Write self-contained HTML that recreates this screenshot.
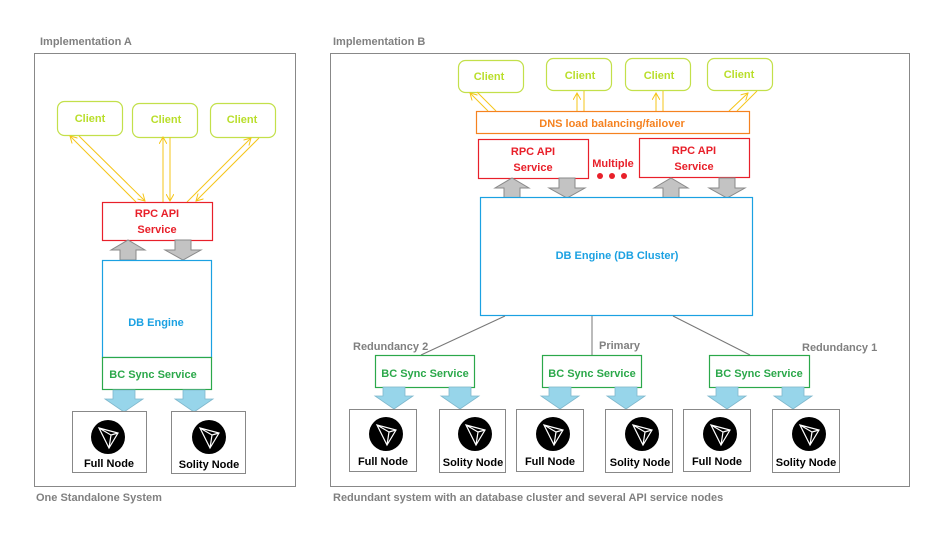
<!DOCTYPE html>
<html><head><meta charset="utf-8"><style>
html,body{margin:0;padding:0;background:#fff;}
svg{display:block;}
text{font-family:"Liberation Sans",sans-serif;font-weight:bold;}
</style></head><body>
<svg width="941" height="534" viewBox="0 0 941 534" xmlns="http://www.w3.org/2000/svg">
<defs>
<g id="logo"><circle r="17" fill="#000"/><path d="M-9,-9 L10,-4 L1,11 Z M-9,-9 L3,-2 L1,11 M3,-2 L10,-4" fill="none" stroke="#fff" stroke-width="1.2"/></g>
<g id="up"><path d="M-8,20 L-8,10 L-17,10 L0,0 L17,10 L8,10 L8,20 Z" fill="#c3c3c3" stroke="#8a8a8a" stroke-width="1"/></g>
<g id="dn"><path d="M-8,0 L-8,10 L-18,10 L0,20 L18,10 L8,10 L8,0 Z" fill="#c3c3c3" stroke="#8a8a8a" stroke-width="1"/></g>
<g id="bl"><path d="M-11,0 L-11,9 L-19,9 L0,22 L19,9 L11,9 L11,0 Z" fill="#97d5ea" stroke="#7fb7cc" stroke-width="0.8"/></g>
<marker id="ah" markerWidth="8" markerHeight="8" refX="7" refY="4" orient="auto" markerUnits="userSpaceOnUse"><path d="M0,0 L7,4 L0,8" fill="none" stroke="#f5c518" stroke-width="1"/></marker>
</defs>
<g font-size="11" fill="#808080">
<text x="40" y="45">Implementation A</text>
<text x="333" y="45">Implementation B</text>
<text x="36" y="501">One Standalone System</text>
<text x="333" y="501">Redundant system with an database cluster and several API service nodes</text>
</g>
<rect x="34.5" y="53.5" width="261" height="433" fill="none" stroke="#888"/>
<rect x="330.5" y="53.5" width="579" height="433" fill="none" stroke="#888"/>

<!-- Left -->
<g fill="none" stroke="#c3e04a" stroke-width="1.2">
<rect x="57.5" y="101.5" width="65" height="34" rx="7"/>
<rect x="132.5" y="103.5" width="65" height="34" rx="7"/>
<rect x="210.5" y="103.5" width="65" height="34" rx="7"/>
</g>
<g font-size="11" fill="#b9de2a" text-anchor="middle">
<text x="90" y="122">Client</text><text x="166" y="123">Client</text><text x="242" y="123">Client</text>
</g>
<g stroke="#f5c518" stroke-width="1" marker-end="url(#ah)">
<line x1="136" y1="202" x2="70" y2="136"/>
<line x1="79" y1="136" x2="145" y2="201"/>
<line x1="163" y1="202" x2="163" y2="137"/>
<line x1="170" y1="137" x2="170" y2="201"/>
<line x1="187" y1="202" x2="251" y2="138"/>
<line x1="259" y1="138" x2="196" y2="201"/>
</g>
<rect x="102.5" y="202.5" width="110" height="38" fill="#fff" stroke="#e8202a" stroke-width="1.2"/>
<text x="157" y="217" font-size="11" fill="#e8202a" text-anchor="middle">RPC API</text>
<text x="157" y="233" font-size="11" fill="#e8202a" text-anchor="middle">Service</text>
<use href="#up" x="128" y="240"/><use href="#dn" x="183" y="240"/>
<rect x="102.5" y="260.5" width="109" height="97" fill="#fff" stroke="#1ba1e2" stroke-width="1.2"/>
<text x="156" y="326" font-size="11" fill="#1ba1e2" text-anchor="middle">DB Engine</text>
<rect x="102.5" y="357.5" width="109" height="32" fill="#fff" stroke="#2ba84a" stroke-width="1.2"/>
<text x="153" y="378" font-size="11" fill="#2ba84a" text-anchor="middle">BC Sync Service</text>
<use href="#bl" x="124" y="390"/><use href="#bl" x="194" y="390"/>
<rect x="72.5" y="411.5" width="74" height="61" fill="#fff" stroke="#888"/>
<rect x="171.5" y="411.5" width="74" height="62" fill="#fff" stroke="#888"/>
<use href="#logo" x="108" y="437"/><use href="#logo" x="209" y="437"/>
<g font-size="11" fill="#000" text-anchor="middle">
<text x="109" y="467">Full Node</text><text x="209" y="468">Solity Node</text>
</g>

<!-- Right -->
<g fill="none" stroke="#c3e04a" stroke-width="1.2">
<rect x="458.5" y="60.5" width="65" height="32" rx="7"/>
<rect x="546.5" y="58.5" width="65" height="32" rx="7"/>
<rect x="625.5" y="58.5" width="65" height="32" rx="7"/>
<rect x="707.5" y="58.5" width="65" height="32" rx="7"/>
</g>
<g font-size="11" fill="#b9de2a" text-anchor="middle">
<text x="489" y="80">Client</text><text x="580" y="79">Client</text><text x="659" y="79">Client</text><text x="739" y="78">Client</text>
</g>
<g stroke="#f5c518" stroke-width="1">
<line x1="488" y1="111" x2="470" y2="93" marker-end="url(#ah)"/>
<line x1="496" y1="111" x2="477" y2="92"/>
<line x1="577" y1="111" x2="577" y2="93" marker-end="url(#ah)"/>
<line x1="584" y1="111" x2="584" y2="91"/>
<line x1="656" y1="111" x2="656" y2="93" marker-end="url(#ah)"/>
<line x1="663" y1="111" x2="663" y2="91"/>
<line x1="729" y1="111" x2="748" y2="93" marker-end="url(#ah)"/>
<line x1="737" y1="111" x2="757" y2="91"/>
</g>
<rect x="476.5" y="111.5" width="273" height="22" fill="#fff" stroke="#f58220" stroke-width="1.2"/>
<text x="612" y="127" font-size="11" fill="#f58220" text-anchor="middle">DNS load balancing/failover</text>
<rect x="478.5" y="139.5" width="110" height="39" fill="#fff" stroke="#e8202a" stroke-width="1.2"/>
<text x="533" y="155" font-size="11" fill="#e8202a" text-anchor="middle">RPC API</text>
<text x="533" y="171" font-size="11" fill="#e8202a" text-anchor="middle">Service</text>
<rect x="639.5" y="138.5" width="110" height="39" fill="#fff" stroke="#e8202a" stroke-width="1.2"/>
<text x="694" y="154" font-size="11" fill="#e8202a" text-anchor="middle">RPC API</text>
<text x="694" y="170" font-size="11" fill="#e8202a" text-anchor="middle">Service</text>
<text x="613" y="167" font-size="11" fill="#e8202a" text-anchor="middle">Multiple</text>
<g fill="#e8202a"><circle cx="600" cy="176" r="3"/><circle cx="612" cy="176" r="3"/><circle cx="624" cy="176" r="3"/></g>
<use href="#up" x="512" y="178"/><use href="#dn" x="567" y="178"/>
<use href="#up" x="671" y="178"/><use href="#dn" x="727" y="178"/>
<rect x="480.5" y="197.5" width="272" height="118" fill="#fff" stroke="#1ba1e2" stroke-width="1.2"/>
<text x="617" y="259" font-size="11" fill="#1ba1e2" text-anchor="middle">DB Engine (DB Cluster)</text>
<g stroke="#777" stroke-width="1">
<line x1="505" y1="316" x2="421" y2="355"/>
<line x1="592" y1="316" x2="592" y2="355"/>
<line x1="673" y1="316" x2="750" y2="355"/>
</g>
<g font-size="11" fill="#808080">
<text x="353" y="350">Redundancy 2</text>
<text x="599" y="349">Primary</text>
<text x="802" y="351">Redundancy 1</text>
</g>
<g fill="#fff" stroke="#2ba84a" stroke-width="1.2">
<rect x="375.5" y="355.5" width="99" height="32"/>
<rect x="542.5" y="355.5" width="99" height="32"/>
<rect x="709.5" y="355.5" width="100" height="32"/>
</g>
<g font-size="11" fill="#2ba84a" text-anchor="middle">
<text x="425" y="377">BC Sync Service</text><text x="592" y="377">BC Sync Service</text><text x="759" y="377">BC Sync Service</text>
</g>
<use href="#bl" x="394" y="387"/><use href="#bl" x="460" y="387"/>
<use href="#bl" x="560" y="387"/><use href="#bl" x="626" y="387"/>
<use href="#bl" x="727" y="387"/><use href="#bl" x="793" y="387"/>
<g fill="#fff" stroke="#888">
<rect x="349.5" y="409.5" width="67" height="62"/>
<rect x="439.5" y="409.5" width="66" height="63"/>
<rect x="516.5" y="409.5" width="67" height="62"/>
<rect x="605.5" y="409.5" width="67" height="63"/>
<rect x="683.5" y="409.5" width="67" height="62"/>
<rect x="772.5" y="409.5" width="67" height="63"/>
</g>
<use href="#logo" x="386" y="434"/><use href="#logo" x="475" y="434"/>
<use href="#logo" x="553" y="434"/><use href="#logo" x="642" y="434"/>
<use href="#logo" x="720" y="434"/><use href="#logo" x="809" y="434"/>
<g font-size="11" fill="#000" text-anchor="middle">
<text x="383" y="465">Full Node</text><text x="473" y="466">Solity Node</text>
<text x="550" y="465">Full Node</text><text x="640" y="466">Solity Node</text>
<text x="717" y="465">Full Node</text><text x="806" y="466">Solity Node</text>
</g>
</svg>
</body></html>
